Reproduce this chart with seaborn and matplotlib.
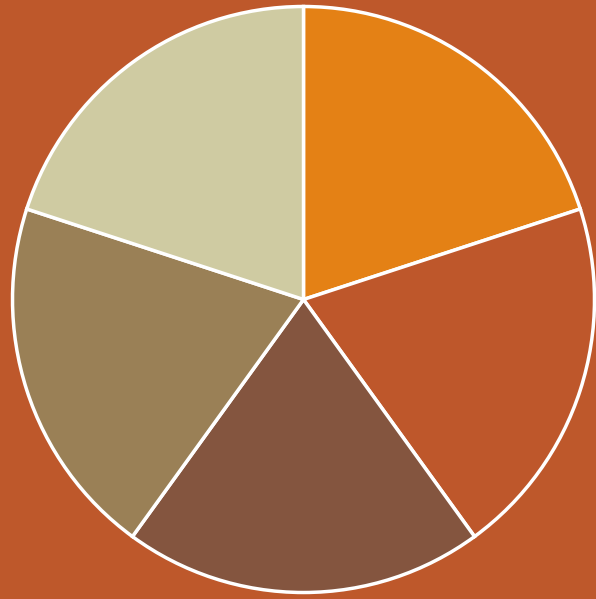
import matplotlib
matplotlib.use("Agg")
import matplotlib.pyplot as plt
import seaborn as sns

# 五個等份的扇形（從頂部開始順時針）
labels = ["A", "B", "C", "D", "E"]
values = [20, 20, 20, 20, 20]
colors = ["#E48115", "#BE572B", "#84553F", "#9A8056", "#CFCBA2"]
bg_color = "#BE582B"

sns.set_theme(style="white")
palette = sns.color_palette(colors)

fig = plt.figure(figsize=(5.96, 5.99), dpi=100, facecolor=bg_color)
ax = fig.add_axes([0, 0, 1, 1])
ax.set_facecolor(bg_color)

ax.pie(values, colors=palette, startangle=90, counterclock=False, radius=1.0,
       wedgeprops=dict(edgecolor="white", linewidth=2.5))

# 圓心約在 (303.5, 299.5) 像素，水平半徑 291、垂直半徑 293
rx, ry = 291.0, 293.0
cx, cy = 303.5, 299.5
ax.set_xlim(-cx / rx, (596 - cx) / rx)
ax.set_ylim(-(599 - cy) / ry, cy / ry)
ax.set_aspect("auto")
ax.axis("off")

fig.savefig("out.png", dpi=100, facecolor=bg_color)
